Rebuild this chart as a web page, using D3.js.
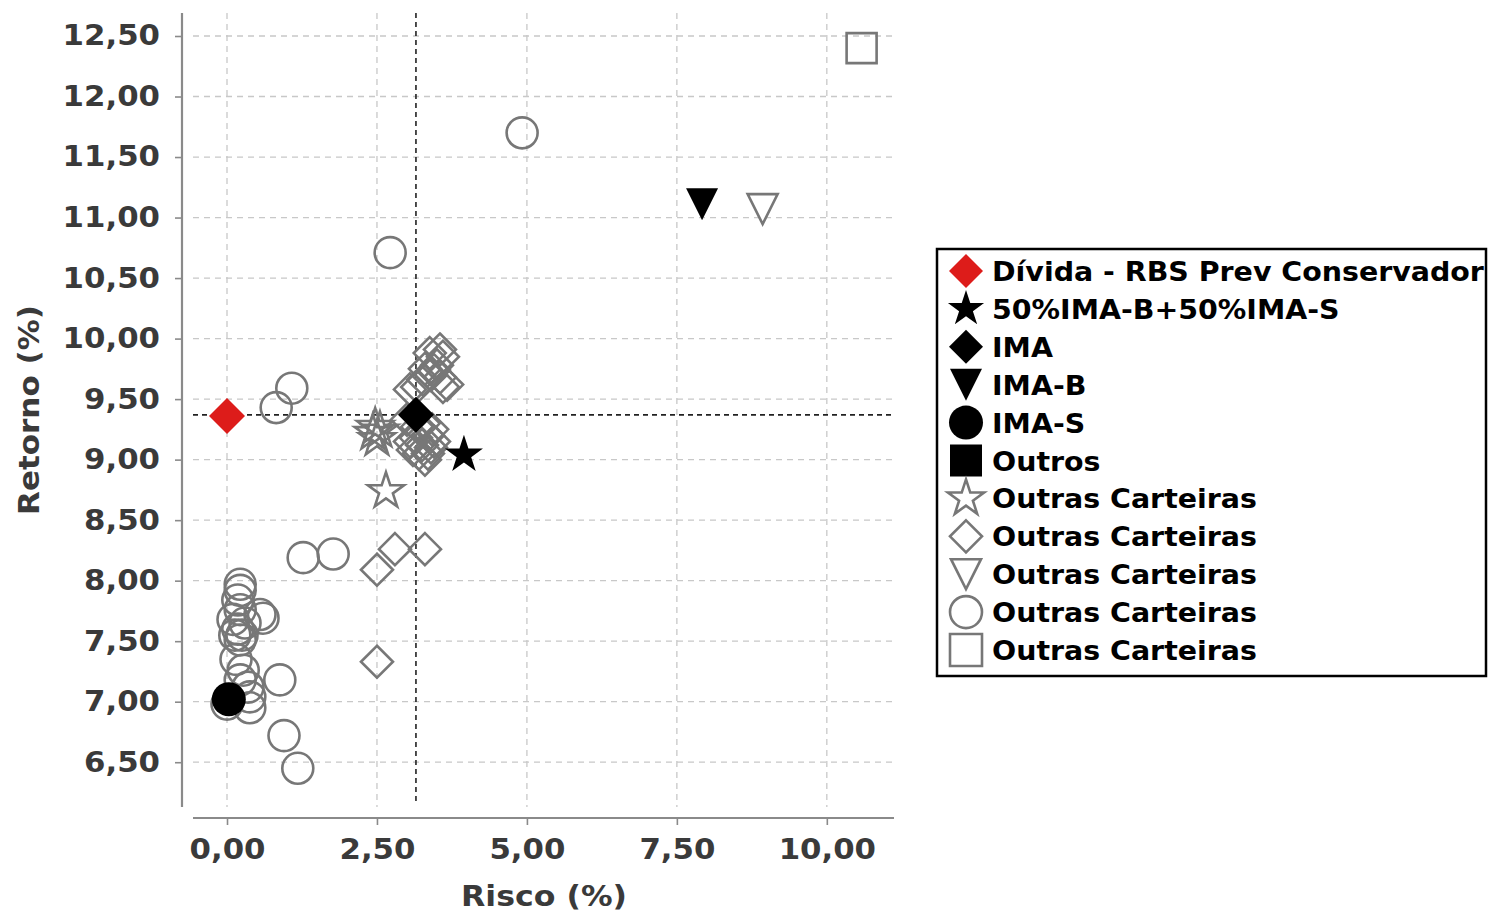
<!DOCTYPE html>
<html><head><meta charset="utf-8">
<script src="https://cdn.jsdelivr.net/npm/d3@7"></script>
<style>
html,body{margin:0;padding:0;background:#fff;}
text{font-family:"DejaVu Sans",sans-serif;font-weight:bold;}
</style></head>
<body>
<svg id="c" width="1488" height="913"></svg>
<script>
// ---------- data ----------
const xTicks = [0, 2.5, 5, 7.5, 10];
const yTicks = [6.5, 7, 7.5, 8, 8.5, 9, 9.5, 10, 10.5, 11, 11.5, 12, 12.5];
const refRisk = 3.15, refReturn = 9.37;

const divida = [[0.0, 9.36]];
const bench5050 = [[3.95, 9.04]];
const ima = [[3.15, 9.37]];
const imaB = [[7.92, 11.11]];
const imaS = [[0.03, 7.02]];
const outros = [];
const outrasStars = [[2.47, 9.27], [2.5, 9.17], [2.43, 9.22], [2.55, 9.24], [2.65, 8.74]];
const outrasDiamonds = [
  [3.55, 9.91], [3.38, 9.88], [3.6, 9.85], [3.5, 9.78], [3.45, 9.74], [3.67, 9.62], [3.6, 9.6],
  [3.27, 9.66], [3.17, 9.6], [3.4, 9.7], [3.05, 9.58], [3.55, 9.68], [3.3, 9.75],
  [3.0, 9.33], [3.17, 9.27], [3.35, 9.2], [3.4, 9.1], [3.3, 9.0], [3.2, 9.05], [3.1, 9.08],
  [3.45, 9.15], [3.28, 9.3], [3.25, 9.12], [3.05, 9.15], [3.35, 9.05], [3.15, 9.18], [3.42, 9.25],
  [2.8, 8.26], [2.5, 8.09], [3.3, 8.26], [2.5, 7.33]
];
const outrasTriangles = [[8.93, 11.07]];
const outrasCircles = [
  [4.92, 11.70], [2.72, 10.71], [1.08, 9.59], [0.82, 9.43], [1.27, 8.19], [1.77, 8.22],
  [0.88, 7.18], [0.95, 6.72], [1.18, 6.45],
  [0.22, 7.97], [0.22, 7.92], [0.18, 7.84], [0.22, 7.76], [0.6, 7.69], [0.55, 7.72], [0.1, 7.68],
  [0.18, 7.6], [0.13, 7.55], [0.22, 7.51], [0.15, 7.35], [0.27, 7.26], [0.22, 7.18], [0.35, 7.12],
  [0.38, 7.04], [0.0, 6.98], [0.38, 6.95], [0.3, 7.65], [0.25, 7.55]
];
const outrasSquares = [[10.58, 12.40]];

const legendLabels = ["Dívida - RBS Prev Conservador", "50%IMA-B+50%IMA-S", "IMA", "IMA-B", "IMA-S", "Outros",
  "Outras Carteiras", "Outras Carteiras", "Outras Carteiras", "Outras Carteiras", "Outras Carteiras"];

// ---------- shapes ----------
function shapePath(type, r) {
  if (type === "circle") return d3.arc()({innerRadius: 0, outerRadius: r, startAngle: 0, endAngle: 2 * Math.PI});
  if (type === "diamond") return `M0,${-r}L${r},0L0,${r}L${-r},0Z`;
  if (type === "square") return `M${-r},${-r}H${r}V${r}H${-r}Z`;
  if (type === "tridown") return `M${-r},${-r}L${r},${-r}L0,${r}Z`;
  if (type === "star") {
    const pts = [];
    for (let i = 0; i < 10; i++) {
      const rr = i % 2 ? r * 0.382 : r;
      const a = -Math.PI / 2 + i * Math.PI / 5;
      pts.push([rr * Math.cos(a), rr * Math.sin(a)]);
    }
    return "M" + pts.map(p => p.join(",")).join("L") + "Z";
  }
}

const gray = "#777";
const series = [
  {data: divida, shape: "diamond", r: 18, fill: "#dd1c1a", stroke: "none", lr: 17},
  {data: bench5050, shape: "star", r: 20, fill: "#000", stroke: "none", lr: 19},
  {data: ima, shape: "diamond", r: 18, fill: "#000", stroke: "none", lr: 17},
  {data: imaB, shape: "tridown", r: 16, fill: "#000", stroke: "none", lr: 16},
  {data: imaS, shape: "circle", r: 17, fill: "#000", stroke: "none", lr: 17},
  {data: outros, shape: "square", r: 16, fill: "#000", stroke: "none", lr: 16},
  {data: outrasStars, shape: "star", r: 19, fill: "none", stroke: gray, lr: 19},
  {data: outrasDiamonds, shape: "diamond", r: 16, fill: "none", stroke: gray, lr: 16},
  {data: outrasTriangles, shape: "tridown", r: 15, fill: "none", stroke: gray, lr: 15},
  {data: outrasCircles, shape: "circle", r: 15.5, fill: "none", stroke: gray, lr: 16},
  {data: outrasSquares, shape: "square", r: 15, fill: "none", stroke: gray, lr: 16}
];

// ---------- scales ----------
const svg = d3.select("#c");
const x = d3.scaleLinear().domain([-0.567, 11.12]).range([193, 894]);
const y = d3.scaleLinear().domain([6.13, 12.69]).range([807, 13]);
const fmt = d => d.toFixed(2).replace(".", ",");

// grid
const grid = svg.append("g");
grid.selectAll(".gx").data(xTicks).join("line")
  .attr("x1", d => x(d)).attr("x2", d => x(d)).attr("y1", y.range()[1]).attr("y2", y.range()[0])
  .attr("stroke", "#c8c8c8").attr("stroke-width", 1.3).attr("stroke-dasharray", "6,5");
grid.selectAll(".gy").data(yTicks).join("line")
  .attr("y1", d => y(d)).attr("y2", d => y(d)).attr("x1", x.range()[0]).attr("x2", x.range()[1])
  .attr("stroke", "#c8c8c8").attr("stroke-width", 1.3).attr("stroke-dasharray", "6,5");

// axes (offset spines)
const xAxis = svg.append("g").attr("transform", "translate(0,818)")
  .call(d3.axisBottom(x).tickValues(xTicks).tickFormat(fmt).tickSize(7).tickPadding(14));
const yAxis = svg.append("g").attr("transform", "translate(182,0)")
  .call(d3.axisLeft(y).tickValues(yTicks).tickFormat(fmt).tickSize(7).tickPadding(13));
[xAxis, yAxis].forEach(a => {
  a.select(".domain").attr("stroke", "#8a8a8a").attr("stroke-width", 2.2);
  a.selectAll(".tick line").attr("stroke", "#8a8a8a").attr("stroke-width", 1.6);
  a.selectAll(".tick text").attr("fill", "#3a3a3a").style("font-size", "28px")
    .style("font-family", "DejaVu Sans").style("font-weight", "bold")
    .attr("transform", "scale(1.1,1)");
});
xAxis.select(".domain").attr("d", `M${x.range()[0]},0H${x.range()[1]}`);
yAxis.select(".domain").attr("d", `M0,${y.range()[0]}V${y.range()[1]}`);

svg.append("text").attr("transform", "translate(544,906) scale(1.09,1)").attr("text-anchor", "middle")
  .attr("fill", "#3a3a3a").style("font-size", "29px").text("Risco (%)");
svg.append("text").attr("transform", "translate(39,410) rotate(-90) scale(1.07,1)").attr("text-anchor", "middle")
  .attr("fill", "#3a3a3a").style("font-size", "29px").text("Retorno (%)");

// reference lines
svg.append("line").attr("x1", x(refRisk)).attr("x2", x(refRisk)).attr("y1", y.range()[1]).attr("y2", 803)
  .attr("stroke", "#222").attr("stroke-width", 1.6).attr("stroke-dasharray", "5,4");
svg.append("line").attr("y1", y(refReturn)).attr("y2", y(refReturn)).attr("x1", x.range()[0]).attr("x2", x.range()[1])
  .attr("stroke", "#222").attr("stroke-width", 1.6).attr("stroke-dasharray", "5,4");

// points: gray first, then filled
const drawOrder = [6, 7, 8, 9, 10, 0, 1, 2, 3, 4, 5];
const pts = svg.append("g");
drawOrder.forEach(i => {
  const s = series[i];
  pts.append("g").selectAll("path").data(s.data).join("path")
    .attr("transform", d => `translate(${x(d[0])},${y(d[1])})`)
    .attr("d", shapePath(s.shape, s.r))
    .attr("fill", s.fill).attr("stroke", s.stroke).attr("stroke-width", s.stroke === "none" ? 0 : 2.6);
});

// legend
const lg = svg.append("g");
lg.append("rect").attr("x", 937).attr("y", 249).attr("width", 549).attr("height", 427)
  .attr("fill", "#fff").attr("stroke", "#000").attr("stroke-width", 2.5);
const rowY = d3.scaleLinear().domain([0, 10]).range([271, 650]);
series.forEach((s, i) => {
  lg.append("path").attr("transform", `translate(966,${rowY(i)})`)
    .attr("d", shapePath(s.shape, s.lr))
    .attr("fill", s.fill === "none" ? "#fff" : s.fill).attr("stroke", s.stroke).attr("stroke-width", s.stroke === "none" ? 0 : 2.6);
  lg.append("text").attr("transform", `translate(992,${rowY(i) + 10}) scale(1.054,1)`).attr("fill", "#000")
    .style("font-size", "27px").text(legendLabels[i]);
});
</script>
</body></html>
